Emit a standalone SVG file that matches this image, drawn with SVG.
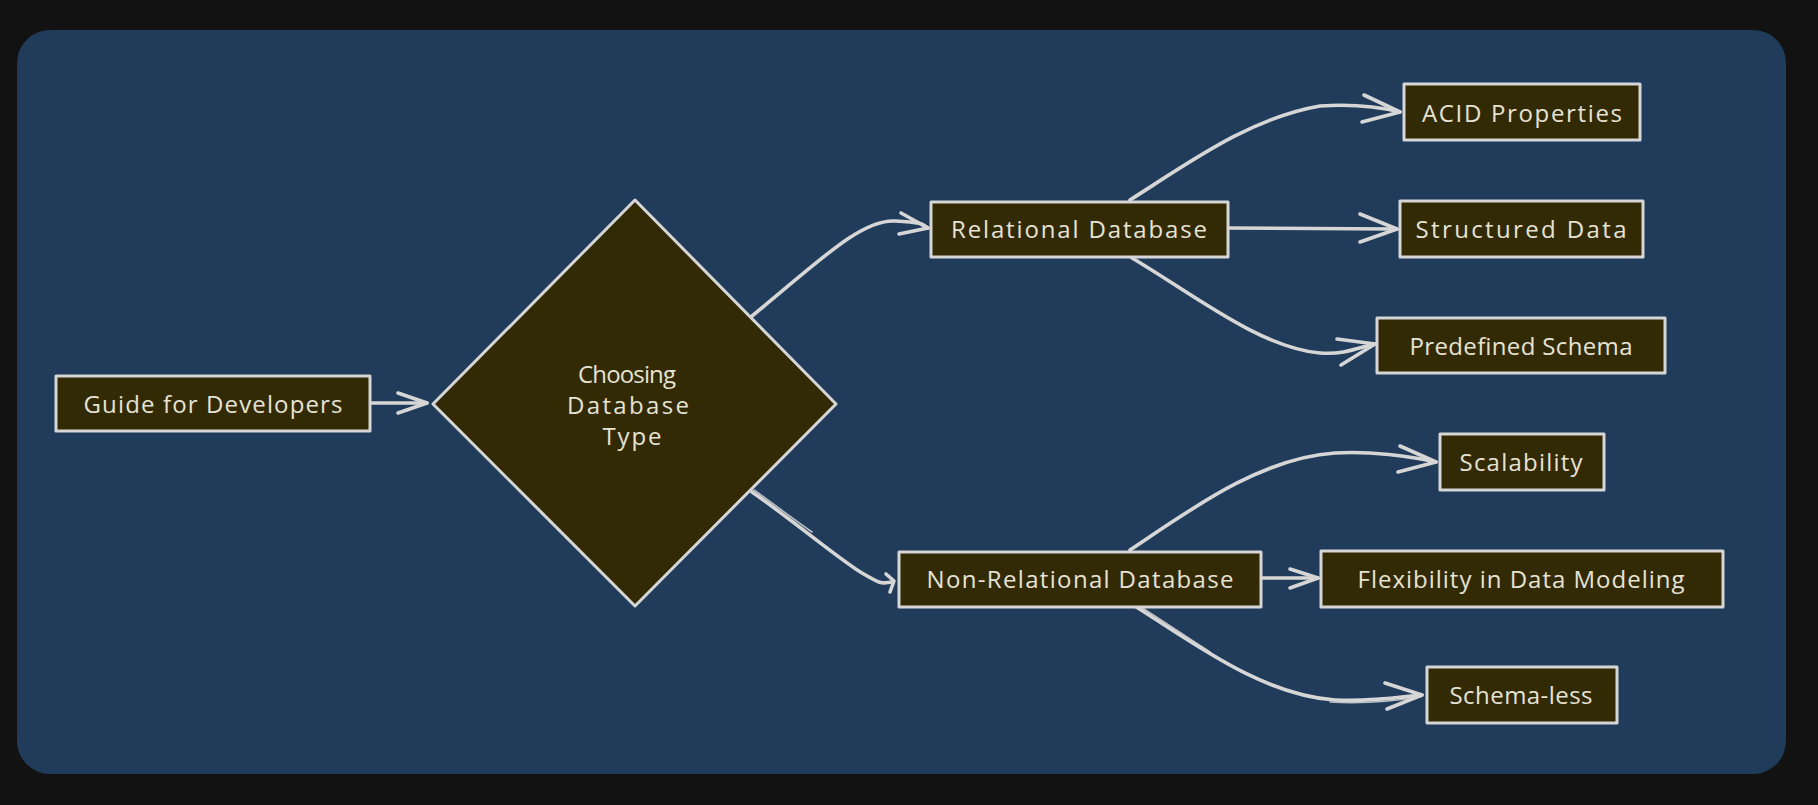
<svg xmlns="http://www.w3.org/2000/svg" width="1818" height="805" viewBox="0 0 1818 805">
<defs>
<style>
.node{fill:#322a04;stroke:#d6d6d6;stroke-width:3;stroke-linejoin:round}
.lbl{fill:#e6e2d4;font-family:"Open Sans","Liberation Sans",sans-serif;font-size:24px;dominant-baseline:central;text-anchor:middle}
.edge{fill:none;stroke:#d6d6d6;stroke-width:3.6;stroke-linecap:round;stroke-linejoin:round}
.sk{fill:none;stroke:#d6d6d6;stroke-width:1.6;stroke-linecap:round;opacity:0.85}
</style>
</defs>
<rect x="0" y="0" width="1818" height="805" fill="#121212"/>
<rect x="17" y="30" width="1769" height="744" rx="33" ry="33" fill="#213c5b"/>

<g id="connectors">
  <path class="edge" d="M370,403 L427,403"/>
  <path class="edge" d="M398,393 L427,403 L398,413"/>

  <path class="edge" d="M752,316 C815,265 860,219 895,221 S921,225 928,228"/>
  <path class="edge" d="M901,213 L928,228 L899,234"/>

  <path class="edge" d="M752,492 C790,518 840,560 862,573 S882,583 892,582"/>
  <path class="sk" d="M754,490 C775,505 795,520 812,532"/>
  <path class="edge" d="M886,574 L894,581 L890,592"/>

  <path class="edge" d="M1130,200 C1190,162 1250,118 1320,106 C1350,104 1380,107 1400,112"/>
  <path class="sk" d="M1127,202 C1155,184 1180,167 1205,152"/>
  <path class="edge" d="M1364,95 L1400,112 L1362,122"/>

  <path class="edge" d="M1228,228 L1397,229"/>
  <path class="edge" d="M1360,214 L1397,229 L1360,242"/>

  <path class="edge" d="M1132,258 C1190,292 1260,348 1320,353 C1345,355 1360,347 1375,344"/>
  <path class="edge" d="M1337,339 L1375,344 L1341,365"/>

  <path class="edge" d="M1130,550 C1190,510 1260,458 1335,453 C1370,451 1410,456 1436,462"/>
  <path class="edge" d="M1400,446 L1436,462 L1398,472"/>

  <path class="edge" d="M1261,578 L1318,578"/>
  <path class="edge" d="M1290,569 L1318,578 L1290,588"/>

  <path class="edge" d="M1130,603 C1190,640 1260,695 1335,700 C1370,702 1400,697 1422,695"/>
  <path class="sk" d="M1133,602 C1160,619 1185,636 1210,652"/>
  <path class="sk" d="M1330,702 C1365,704 1395,701 1420,697"/>
  <path class="edge" d="M1385,683 L1422,695 L1387,709"/>
</g>

<g id="guide">
  <rect class="node" x="56" y="376" width="314" height="55"/>
  <text class="lbl" x="213" y="403" textLength="259">Guide for Developers</text>
</g>

<g id="choose">
  <polygon class="node" points="635,200 836,404 635,606 433,404"/>
  <text class="lbl" x="627" y="373" textLength="98">Choosing</text>
  <text class="lbl" x="628" y="404" textLength="122">Database</text>
  <text class="lbl" x="632" y="435" textLength="59">Type</text>
</g>

<g id="relational">
  <rect class="node" x="931" y="202" width="297" height="55"/>
  <text class="lbl" x="1079" y="228" textLength="256">Relational Database</text>
</g>

<g id="nonrelational">
  <rect class="node" x="899" y="552" width="362" height="55"/>
  <text class="lbl" x="1080" y="578" textLength="307">Non-Relational Database</text>
</g>

<g id="acid">
  <rect class="node" x="1404" y="84" width="236" height="56"/>
  <text class="lbl" x="1522" y="112" textLength="200">ACID Properties</text>
</g>

<g id="structured">
  <rect class="node" x="1400" y="201" width="243" height="56"/>
  <text class="lbl" x="1521" y="228" textLength="211">Structured Data</text>
</g>

<g id="predefined">
  <rect class="node" x="1377" y="318" width="288" height="55"/>
  <text class="lbl" x="1521" y="345" textLength="223">Predefined Schema</text>
</g>

<g id="scalability">
  <rect class="node" x="1440" y="434" width="164" height="56"/>
  <text class="lbl" x="1521" y="461" textLength="123">Scalability</text>
</g>

<g id="flexibility">
  <rect class="node" x="1321" y="551" width="402" height="56"/>
  <text class="lbl" x="1521" y="578" textLength="327">Flexibility in Data Modeling</text>
</g>

<g id="schemaless">
  <rect class="node" x="1427" y="667" width="190" height="56"/>
  <text class="lbl" x="1521" y="694" textLength="143">Schema-less</text>
</g>
</svg>
